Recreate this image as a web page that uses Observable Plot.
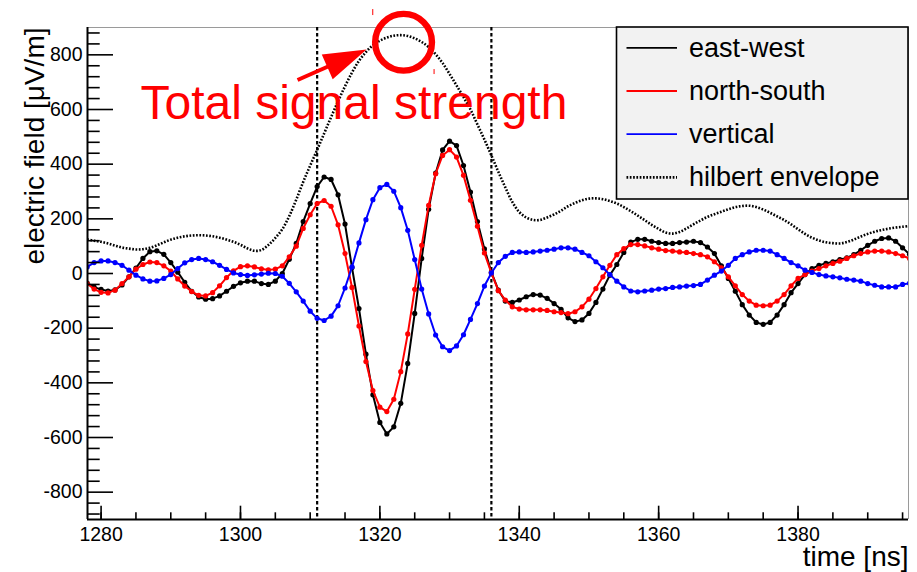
<!DOCTYPE html>
<html><head><meta charset="utf-8">
<script src="https://cdn.jsdelivr.net/npm/d3@7"></script>
<script src="https://cdn.jsdelivr.net/npm/@observablehq/plot@0.6"></script>
<style>
html,body{margin:0;padding:0;background:#fff;}
#chart{width:917px;height:572px;overflow:hidden;}
</style></head><body><div id="chart"></div>
<script>
// ---- data ----
const time = [
 1278,1279,1280,1281,1282,1283,1284,1285,1286,1287,
 1288,1289,1290,1291,1292,1293,1294,1295,1296,1297,
 1298,1299,1300,1301,1302,1303,1304,1305,1306,1307,
 1308,1309,1310,1311,1312,1313,1314,1315,1316,1317,
 1318,1319,1320,1321,1322,1323,1324,1325,1326,1327,
 1328,1329,1330,1331,1332,1333,1334,1335,1336,1337,
 1338,1339,1340,1341,1342,1343,1344,1345,1346,1347,
 1348,1349,1350,1351,1352,1353,1354,1355,1356,1357,
 1358,1359,1360,1361,1362,1363,1364,1365,1366,1367,
 1368,1369,1370,1371,1372,1373,1374,1375,1376,1377,
 1378,1379,1380,1381,1382,1383,1384,1385,1386,1387,
 1388,1389,1390,1391,1392,1393,1394,1395,1396];
const eastWest = [
 -35,-50,-58,-64,-60,-42,-12,20,55,80,
 83,70,40,5,-32,-65,-86,-94,-92,-82,
 -65,-47,-34,-28,-28,-37,-40,-28,0,52,
 110,190,256,318,353,344,288,181,22,-128,
 -295,-444,-545,-587,-561,-475,-329,-146,55,235,
 367,452,484,468,395,298,190,90,5,-61,
 -101,-106,-97,-85,-77,-79,-91,-110,-131,-162,
 -176,-170,-146,-106,-57,-6,33,77,115,125,
 125,118,113,110,110,113,115,118,113,97,
 73,28,-18,-65,-114,-152,-179,-186,-179,-152,
 -114,-70,-37,-4,18,30,37,43,51,57,
 69,85,103,118,128,130,118,94,70];
const northSouth = [
 -37,-57,-69,-71,-61,-37,-12,16,33,42,
 40,28,9,-20,-46,-66,-80,-82,-70,-45,
 -15,10,25,28,24,17,13,16,28,61,
 100,165,215,256,267,246,178,73,-51,-192,
 -322,-428,-489,-505,-460,-359,-221,-58,103,249,
 365,432,453,426,359,268,173,75,2,-63,
 -97,-122,-130,-133,-133,-133,-135,-140,-143,-147,
 -140,-122,-94,-55,-12,30,69,91,106,106,
 101,94,89,84,82,79,77,73,69,61,
 43,21,-12,-45,-77,-101,-116,-118,-116,-101,
 -77,-45,-18,-4,9,18,28,37,45,55,
 65,73,79,82,82,79,73,65,55];
const vertical = [
 24,40,46,46,40,30,12,-6,-20,-28,
 -27,-18,-4,18,39,51,55,51,43,30,
 15,2,-4,-7,-5,-2,1,0,-10,-36,
 -67,-101,-138,-164,-172,-156,-118,-53,24,112,
 197,270,314,326,301,241,158,51,-57,-148,
 -225,-268,-282,-265,-224,-168,-110,-46,2,40,
 63,77,79,77,79,82,85,89,94,94,
 89,77,65,43,21,-4,-28,-49,-64,-67,
 -64,-61,-57,-55,-51,-49,-46,-44,-40,-24,
 -6,9,30,55,69,79,85,85,82,69,
 55,40,28,12,4,-4,-9,-12,-16,-21,
 -24,-28,-37,-43,-49,-49,-49,-40,-36];
const hilbert = [
 125,120,116,110,102,95,91,88,89,94,
 103,114,124,131,136,139,140,139,136,131,
 124,116,105,92,83,86,104,130,162,210,
 270,335,395,452,512,572,630,685,735,778,
 810,835,852,863,870,872,869,860,847,828,
 802,770,730,688,645,600,545,490,432,372,
 315,262,225,205,196,196,205,216,230,246,
 258,268,274,275,272,265,256,243,228,212,
 195,178,163,150,146,152,165,180,194,207,
 217,226,235,243,247,248,243,234,222,209,
 196,180,162,145,131,121,114,111,110,115,
 124,135,145,153,159,164,168,171,174];

const seriesNames = ["east-west", "north-south", "vertical", "hilbert envelope"];
const xMajorTicks = [1280, 1300, 1320, 1340, 1360, 1380];
const xMinorTicks = [1280,1285,1290,1295,1300,1305,1310,1315,1320,1325,1330,1335,1340,1345,1350,1355,1360,1365,1370,1375,1380,1385,1390,1395];
const yMajorTicks = [-800, -600, -400, -200, 0, 200, 400, 600, 800];
const yMinorTicks = [-880,-840,-760,-720,-680,-640,-560,-520,-480,-440,-360,-320,-280,-240,-160,-120,-80,-40,40,80,120,160,240,280,320,360,440,480,520,560,640,680,720,760,840,880];
const windowMarkers = [1311, 1336];
const xLabel = "time [ns]";
const yLabel = "electric field [\u03BCV/m]";
const annotationLabel = ["Total signal strength"];
const annotationAt = [{t: 1285.65, v: 567}];
const peakMarker = [{t: 1323.4, v: 846}];
const arrowTail = [{t: 1308.26, v: 706}];
const arrowTip = [{t: 1318.16, v: 818}];

// ---- build table ----
const rows = time.map((t, i) => ({t, ew: eastWest[i], ns: northSouth[i], vert: vertical[i], env: hilbert[i]}));

const FONT = "'Liberation Sans', Arial, Helvetica, sans-serif";
const W = 917, H = 572;
const xDomain = [1278.05, 1395.85];
const yDomain = [-900, 900];
const RED = "#ff0000", BLUE = "#0000ff", BLACK = "#000000";
const ENV_DASH = "1.7,1.6";
const LW = 2, DR = 2.6;

const plot = Plot.plot({
  width: W, height: H,
  marginLeft: 87, marginRight: 9, marginTop: 27, marginBottom: 53,
  x: {domain: xDomain},
  y: {domain: yDomain},
  style: {fontFamily: FONT, fontSize: "19.5px", color: "#000", background: "#fff", overflow: "visible"},
  marks: [
    // frame (top/right gray)
    Plot.ruleY([yDomain[1]], {stroke: "#9a9a9a", strokeWidth: 1}),
    Plot.ruleX([xDomain[1]], {stroke: "#9a9a9a", strokeWidth: 1}),
    // dashed window markers
    Plot.ruleX(windowMarkers, {stroke: BLACK, strokeWidth: 2.2, strokeDasharray: "3.5,2.5"}),
    // series
    Plot.line(rows, {x: "t", y: "ew", stroke: BLACK, strokeWidth: LW, clip: true}),
    Plot.dot(rows, {x: "t", y: "ew", r: DR, fill: BLACK, clip: true}),
    Plot.line(rows, {x: "t", y: "ns", stroke: RED, strokeWidth: LW, clip: true}),
    Plot.dot(rows, {x: "t", y: "ns", r: DR, fill: RED, clip: true}),
    Plot.line(rows, {x: "t", y: "vert", stroke: BLUE, strokeWidth: LW, clip: true}),
    Plot.dot(rows, {x: "t", y: "vert", r: DR, fill: BLUE, clip: true}),
    Plot.line(rows, {x: "t", y: "env", stroke: BLACK, strokeWidth: 2.6, strokeDasharray: ENV_DASH, curve: "catmull-rom", clip: true, ariaDescription: "envelope"}),
    // axes
    Plot.axisX({ticks: xMinorTicks, tickSize: -6.7, tickFormat: () => "", label: null, strokeWidth: 1.6}),
    Plot.axisX({ticks: xMajorTicks, tickSize: -13.3, tickPadding: 20.5, tickFormat: d => String(d), label: null, strokeWidth: 1.6}),
    Plot.axisY({ticks: yMinorTicks, tickSize: -12.7, tickFormat: () => "", label: null, strokeWidth: 1.6}),
    Plot.axisY({ticks: yMajorTicks, tickSize: -26, tickPadding: 31, tickFormat: d => String(d), label: null, strokeWidth: 1.6}),
    Plot.ruleX([xDomain[0]], {stroke: BLACK, strokeWidth: 2}),
    Plot.ruleY([yDomain[0]], {stroke: BLACK, strokeWidth: 2}),
    // axis titles
    Plot.text([yLabel], {frameAnchor: "top-left", text: d => d, rotate: -90, textAnchor: "end", lineAnchor: "bottom", dx: -44, fontSize: 28, fill: BLACK}),
    Plot.text([xLabel], {frameAnchor: "bottom-right", text: d => d, textAnchor: "end", lineAnchor: "bottom", dy: 46, fontSize: 28, fill: BLACK}),
    // annotation
    Plot.dot(peakMarker, {x: "t", y: "v", r: 28.4, stroke: RED, strokeWidth: 6.4, fill: "none"}),
    Plot.text(annotationAt, {x: "t", y: "v", text: (d, i) => annotationLabel[i], fill: RED, fontSize: 48, textAnchor: "start", lineAnchor: "bottom"})
  ]
});

document.getElementById("chart").appendChild(plot);

// make sure the envelope path carries its dotted pattern
d3.select(plot).selectAll('[aria-description="envelope"], [aria-description="envelope"] path')
  .attr("stroke-dasharray", ENV_DASH).attr("stroke-width", 2.6).attr("stroke-linecap", "butt");

// ---- arrow, handles and legend (positions via Plot scales) ----
const sx = plot.scale("x"), sy = plot.scale("y");
const svg = d3.select(plot);
const tail = [sx.apply(arrowTail[0].t), sy.apply(arrowTail[0].v)];
const tip = [sx.apply(arrowTip[0].t), sy.apply(arrowTip[0].v)];
const dxA = tip[0] - tail[0], dyA = tip[1] - tail[1];
const lenA = Math.hypot(dxA, dyA);
const ux = dxA / lenA, uy = dyA / lenA;
const headLen = 43, headHalf = 13.5;
const base = [tip[0] - headLen * ux, tip[1] - headLen * uy];
const ga = svg.append("g").attr("class", "arrow");
ga.append("line").attr("x1", tail[0]).attr("y1", tail[1]).attr("x2", base[0] + 4 * ux).attr("y2", base[1] + 4 * uy)
  .attr("stroke", RED).attr("stroke-width", 4);
ga.append("polygon").attr("points", [
  tip,
  [base[0] - headHalf * uy, base[1] + headHalf * ux],
  [base[0] + headHalf * uy, base[1] - headHalf * ux]
].map(p => p.join(",")).join(" ")).attr("fill", RED);

// small selection handles next to circle
const cx = sx.apply(peakMarker[0].t), cy = sy.apply(peakMarker[0].v);
ga.append("line").attr("x1", cx - 30.3).attr("x2", cx - 30.3).attr("y1", cy - 32.7).attr("y2", cy - 26.7).attr("stroke", RED).attr("stroke-width", 1);
ga.append("line").attr("x1", cx + 31).attr("x2", cx + 31).attr("y1", cy + 27.3).attr("y2", cy + 32.3).attr("stroke", RED).attr("stroke-width", 1);

// legend
const frameRight = W - 9, frameTop = 27;
const lg = svg.append("g").attr("class", "legend").attr("text-anchor", "start");
const boxX = frameRight - 291.5, boxY = frameTop, boxW = 291.5, boxH = 172;
lg.append("rect").attr("x", boxX).attr("y", boxY).attr("width", boxW).attr("height", boxH)
  .attr("fill", "#f2f2f2").attr("stroke", "#000").attr("stroke-width", 1.6);
const legendColors = [BLACK, RED, BLUE, BLACK];
seriesNames.forEach((name, i) => {
  const yc = boxY + 20.8 + i * 43.2;
  const ln = lg.append("line").attr("x1", boxX + 10).attr("x2", boxX + 60.5).attr("y1", yc).attr("y2", yc)
    .attr("stroke", legendColors[i]).attr("stroke-width", i === 3 ? 2.6 : 1.8);
  if (i === 3) ln.attr("stroke-dasharray", ENV_DASH);
  lg.append("text").attr("x", boxX + 72.5).attr("y", yc + 8.8).attr("text-anchor", "start")
    .attr("font-family", FONT).attr("font-size", 27).attr("fill", "#000").text(name);
});
</script>
</body></html>
